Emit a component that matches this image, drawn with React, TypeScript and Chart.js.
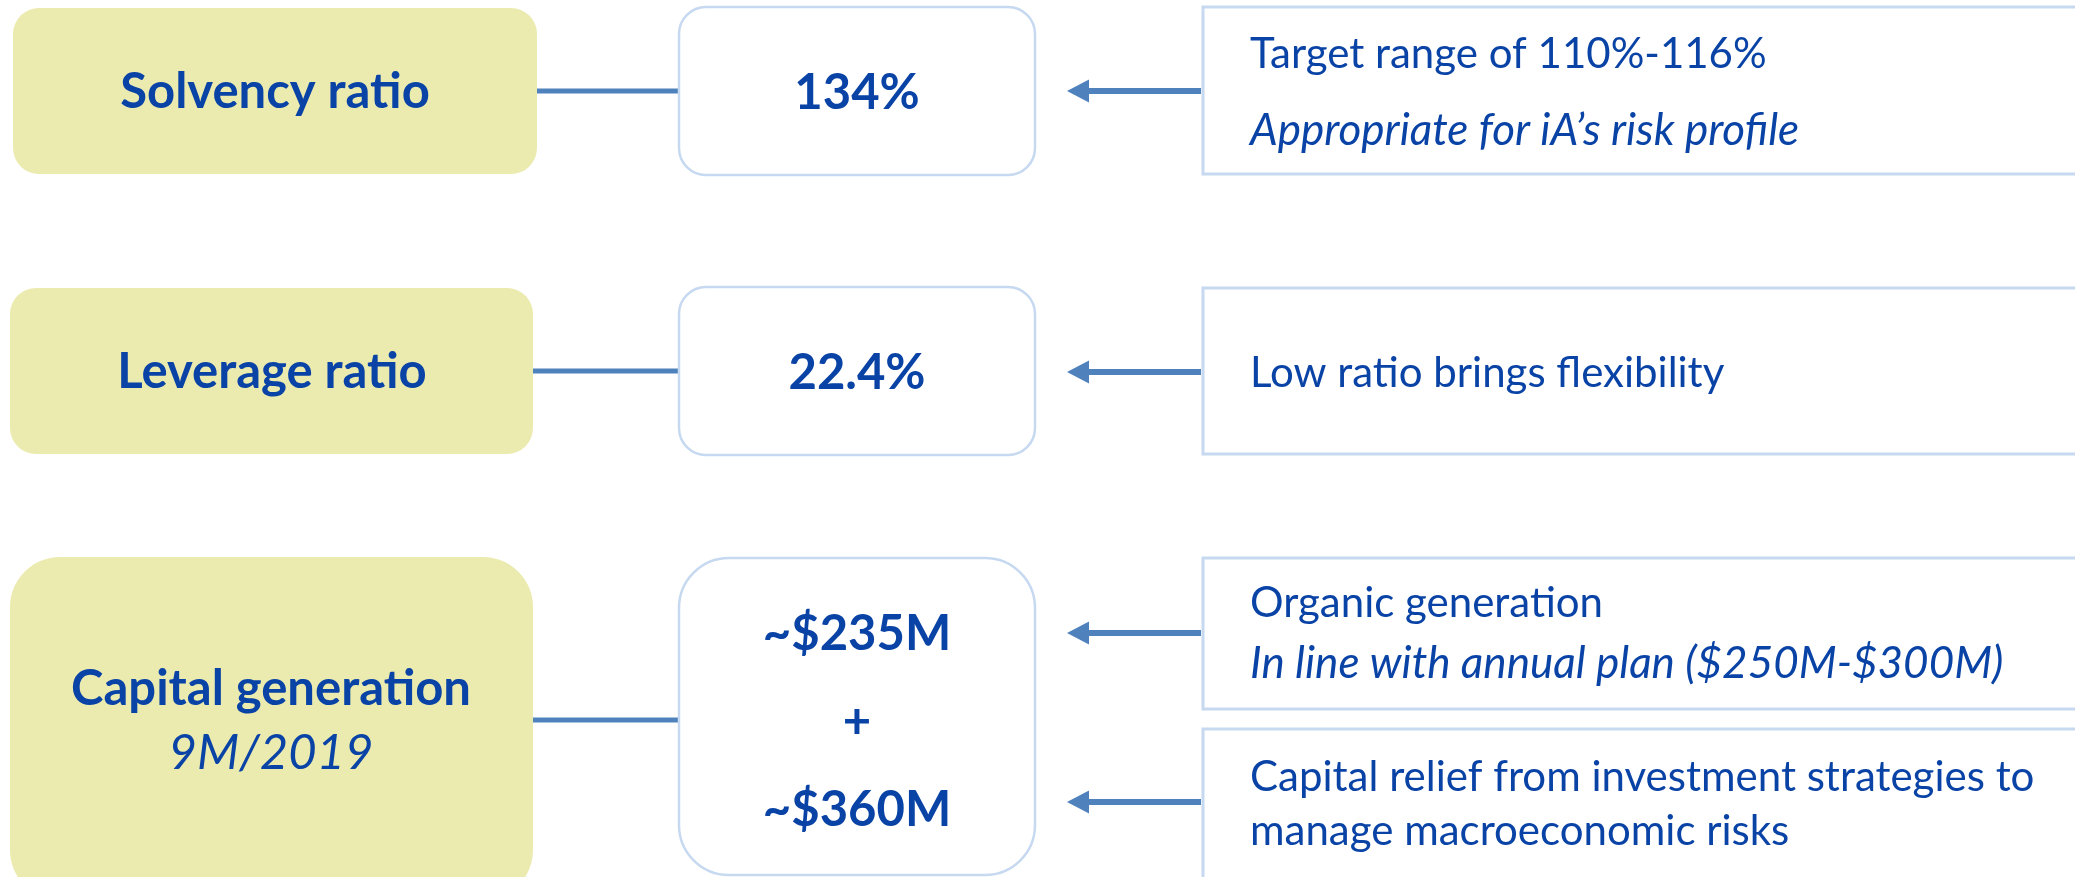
import React, { useEffect, useRef } from "react";
import { Chart, registerables } from "chart.js";

Chart.register(...registerables);

// ---- data ----
const categories = ["Solvency ratio", "Leverage ratio", "Capital generation"];
const categoryNotes = ["", "", "9M/2019"];
const valueLabels = [["134%"], ["22.4%"], ["~$235M", "+", "~$360M"]];
const noteMain = [
  ["Target range of 110%-116%"],
  ["Low ratio brings flexibility"],
  ["Organic generation"],
  ["Capital relief from investment strategies to", "manage macroeconomic risks"],
];
const noteItalic = [
  ["Appropriate for iA\u2019s risk profile"],
  [],
  ["In line with annual plan ($250M-$300M)"],
  [],
];

// ---- layout (positions/styles) ----
const W = 2075;
const H = 877;
const FONT = "Lato, 'Open Sans', sans-serif";
const TEXT_COLOR = "#0A43A6";
const YELLOW = "#EBEBB0";
const BORDER = "#C6D9F0";
const LINE = "#4F81BD";

const yellowBoxes = [
  { x0: 13, y0: 8, x1: 537, y1: 174, r: 26, cx: 275, baselines: [108] },
  { x0: 10, y0: 288, x1: 533, y1: 454, r: 26, cx: 272, baselines: [388] },
  { x0: 10, y0: 557, x1: 533, y1: 900, r: 50, cx: 271, baselines: [705, 769] },
];
const whiteBoxes = [
  { x0: 679, y0: 7, x1: 1035, y1: 175, r: 27, cx: 857, baselines: [109] },
  { x0: 679, y0: 287, x1: 1035, y1: 455, r: 27, cx: 857, baselines: [389] },
  { x0: 679, y0: 558, x1: 1035, y1: 875, r: 50, cx: 857, baselines: [650, 738, 826] },
];
const connectorsY = [91, 371, 720];
const noteBoxes = [
  { x0: 1203, y0: 7, x1: 2095, y1: 174, arrowY: 91, main: [68], ital: [145] },
  { x0: 1203, y0: 288, x1: 2095, y1: 454, arrowY: 372, main: [387], ital: [] },
  { x0: 1203, y0: 558, x1: 2095, y1: 709, arrowY: 633, main: [617], ital: [678] },
  { x0: 1203, y0: 729, x1: 2095, y1: 910, arrowY: 802, main: [791, 845], ital: [] },
];
const NOTE_X = 1250;

function roundRect(ctx: CanvasRenderingContext2D, x0: number, y0: number, x1: number, y1: number, r: number) {
  ctx.beginPath();
  ctx.moveTo(x0 + r, y0);
  ctx.lineTo(x1 - r, y0);
  ctx.arcTo(x1, y0, x1, y0 + r, r);
  ctx.lineTo(x1, y1 - r);
  ctx.arcTo(x1, y1, x1 - r, y1, r);
  ctx.lineTo(x0 + r, y1);
  ctx.arcTo(x0, y1, x0, y1 - r, r);
  ctx.lineTo(x0, y0 + r);
  ctx.arcTo(x0, y0, x0 + r, y0, r);
  ctx.closePath();
}

const diagramPlugin = {
  id: "diagram",
  afterDraw(chart: any) {
    const ctx: CanvasRenderingContext2D = chart.ctx;
    const sx = (v: number) => chart.scales.x.getPixelForValue(v);
    const sy = (v: number) => chart.scales.y.getPixelForValue(v);
    ctx.save();

    // connectors
    ctx.strokeStyle = LINE;
    ctx.lineWidth = 5;
    categories.forEach((_, i) => {
      const yb = yellowBoxes[i];
      const wb = whiteBoxes[i];
      ctx.beginPath();
      ctx.moveTo(sx(yb.x1), sy(connectorsY[i]));
      ctx.lineTo(sx(wb.x0), sy(connectorsY[i]));
      ctx.stroke();
    });

    // yellow boxes + category text
    categories.forEach((cat, i) => {
      const b = yellowBoxes[i];
      roundRect(ctx, sx(b.x0), sy(b.y0), sx(b.x1), sy(b.y1), b.r);
      ctx.fillStyle = YELLOW;
      ctx.fill();
      ctx.fillStyle = TEXT_COLOR;
      ctx.textAlign = "center";
      ctx.textBaseline = "alphabetic";
      ctx.font = `bold 49px ${FONT}`;
      ctx.fillText(cat, sx(b.cx), sy(b.baselines[0]));
      if (categoryNotes[i]) {
        ctx.font = `italic 49px ${FONT}`;
        ctx.fillText(categoryNotes[i], sx(b.cx), sy(b.baselines[1]));
      }
    });

    // white boxes + values
    valueLabels.forEach((vals, i) => {
      const b = whiteBoxes[i];
      roundRect(ctx, sx(b.x0), sy(b.y0), sx(b.x1), sy(b.y1), b.r);
      ctx.fillStyle = "#FFFFFF";
      ctx.fill();
      ctx.strokeStyle = BORDER;
      ctx.lineWidth = 2.5;
      ctx.stroke();
      ctx.fillStyle = TEXT_COLOR;
      ctx.textAlign = "center";
      ctx.font = `bold 49px ${FONT}`;
      vals.forEach((v, k) => {
        ctx.fillText(v, sx(b.cx), sy(b.baselines[k]));
      });
    });

    // note boxes + arrows
    noteMain.forEach((lines, i) => {
      const b = noteBoxes[i];
      ctx.fillStyle = "#FFFFFF";
      ctx.fillRect(sx(b.x0), sy(b.y0), sx(b.x1) - sx(b.x0), sy(b.y1) - sy(b.y0));
      ctx.strokeStyle = BORDER;
      ctx.lineWidth = 3;
      ctx.strokeRect(sx(b.x0), sy(b.y0), sx(b.x1) - sx(b.x0), sy(b.y1) - sy(b.y0));

      // arrow
      const ay = sy(b.arrowY);
      ctx.strokeStyle = LINE;
      ctx.lineWidth = 6;
      ctx.beginPath();
      ctx.moveTo(sx(b.x0 - 2), ay);
      ctx.lineTo(sx(1086), ay);
      ctx.stroke();
      ctx.fillStyle = LINE;
      ctx.beginPath();
      ctx.moveTo(sx(1067), ay);
      ctx.lineTo(sx(1089), ay - 11.5);
      ctx.lineTo(sx(1089), ay + 11.5);
      ctx.closePath();
      ctx.fill();

      ctx.fillStyle = TEXT_COLOR;
      ctx.textAlign = "left";
      ctx.font = `42px ${FONT}`;
      lines.forEach((t, k) => ctx.fillText(t, sx(NOTE_X), sy(b.main[k])));
      ctx.font = `italic 44px ${FONT}`;
      noteItalic[i].forEach((t, k) => ctx.fillText(t, sx(NOTE_X), sy(b.ital[k])));
    });

    ctx.restore();
  },
};

export default function App() {
  const ref = useRef<HTMLCanvasElement | null>(null);
  useEffect(() => {
    document.body.style.margin = "0";
    document.body.style.background = "#FFFFFF";
    if (!ref.current) return;
    const chart = new Chart(ref.current, {
      type: "scatter",
      data: { datasets: [{ data: [], pointRadius: 0 }] },
      options: {
        animation: false,
        responsive: false,
        devicePixelRatio: 1,
        layout: { padding: 0 },
        plugins: { legend: { display: false }, tooltip: { enabled: false } },
        scales: {
          x: { type: "linear", min: 0, max: W, display: false },
          y: { type: "linear", min: 0, max: H, reverse: true, display: false },
        },
      },
      plugins: [diagramPlugin],
    });
    return () => chart.destroy();
  }, []);
  return (
    <div style={{ width: W, height: H, overflow: "hidden" }}>
      <canvas ref={ref} width={W} height={H} style={{ display: "block", width: W, height: H }} />
    </div>
  );
}
